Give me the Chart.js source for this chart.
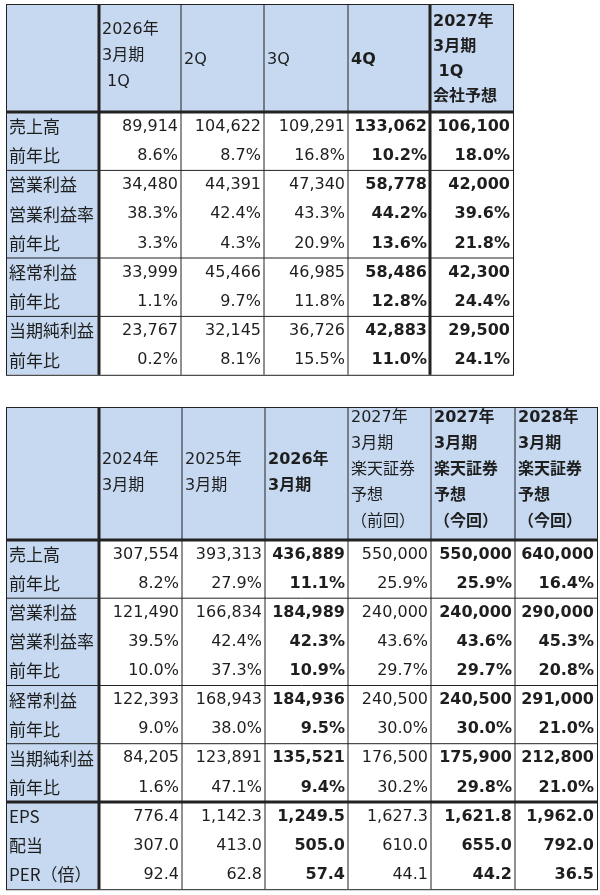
<!DOCTYPE html>
<html><head><meta charset="utf-8">
<script src="https://cdn.jsdelivr.net/npm/chart.js@4"></script>
<style>html,body{margin:0;padding:0;background:#fff}</style>
</head><body>
<canvas id="c" width="600" height="895"></canvas>
<script>
// ---- data ----
const topHeaders = [["2026年","3月期"," 1Q"],["2Q"],["3Q"],["4Q"],["2027年","3月期"," 1Q","会社予想"]];
const topLabels = ["売上高","前年比","営業利益","営業利益率","前年比","経常利益","前年比","当期純利益","前年比"];
const top1Q = ["89,914","8.6%","34,480","38.3%","3.3%","33,999","1.1%","23,767","0.2%"];
const top2Q = ["104,622","8.7%","44,391","42.4%","4.3%","45,466","9.7%","32,145","8.1%"];
const top3Q = ["109,291","16.8%","47,340","43.3%","20.9%","46,985","11.8%","36,726","15.5%"];
const top4Q = ["133,062","10.2%","58,778","44.2%","13.6%","58,486","12.8%","42,883","11.0%"];
const top27 = ["106,100","18.0%","42,000","39.6%","21.8%","42,300","24.4%","29,500","24.1%"];

const botHeaders = [["2024年","3月期"],["2025年","3月期"],["2026年","3月期"],["2027年","3月期","楽天証券","予想","（前回）"],["2027年","3月期","楽天証券","予想","（今回）"],["2028年","3月期","楽天証券","予想","（今回）"]];
const botLabels = ["売上高","前年比","営業利益","営業利益率","前年比","経常利益","前年比","当期純利益","前年比","EPS","配当","PER（倍）"];
const bot2024 = ["307,554","8.2%","121,490","39.5%","10.0%","122,393","9.0%","84,205","1.6%","776.4","307.0","92.4"];
const bot2025 = ["393,313","27.9%","166,834","42.4%","37.3%","168,943","38.0%","123,891","47.1%","1,142.3","413.0","62.8"];
const bot2026 = ["436,889","11.1%","184,989","42.3%","10.9%","184,936","9.5%","135,521","9.4%","1,249.5","505.0","57.4"];
const bot27prev = ["550,000","25.9%","240,000","43.6%","29.7%","240,500","30.0%","176,500","30.2%","1,627.3","610.0","44.1"];
const bot27now = ["550,000","25.9%","240,000","43.6%","29.7%","240,500","30.0%","175,900","29.8%","1,621.8","655.0","44.2"];
const bot28now = ["640,000","16.4%","290,000","45.3%","20.8%","291,000","21.0%","212,800","21.0%","1,962.0","792.0","36.5"];

// ---- layout ----
const tables = [
  {cols:[6,99,181,264,348,430,513], top:4, hdrBottom:112, rowH:29.2, headers:topHeaders, labels:topLabels,
   values:[top1Q,top2Q,top3Q,top4Q,top27], bold:[3,4], groups:[2,5,7], thickRows:[], thickCols:[99,430],
   hdrY:[[30,56,82],[60],[60],[60],[22,47,72,97]]},
  {cols:[6,99,182,265,348,431,515,597], top:407, hdrBottom:540, rowH:29.1, headers:botHeaders, labels:botLabels,
   values:[bot2024,bot2025,bot2026,bot27prev,bot27now,bot28now], bold:[2,4,5], groups:[2,5,7,9], thickRows:[9], thickCols:[99],
   hdrY:null}
];

const tablePlugin = {
  id:'tables',
  afterDraw(chart){
    const ctx = chart.ctx, X = v=>chart.scales.x.getPixelForValue(v), Y = v=>chart.scales.y.getPixelForValue(v);
    const cjk = '"Noto Sans CJK JP"';
    tables.forEach(t=>{
      const L=t.cols[0], R=t.cols[t.cols.length-1], n=t.labels.length, B=t.hdrBottom+n*t.rowH;
      ctx.fillStyle='#c6d9f0';
      ctx.fillRect(X(L),Y(t.top),X(R)-X(L),Y(t.hdrBottom)-Y(t.top));
      ctx.fillRect(X(L),Y(t.top),X(t.cols[1])-X(L),Y(B)-Y(t.top));
      ctx.textBaseline='middle';
      ctx.fillStyle='#1e1e1e';
      t.labels.forEach((lab,i)=>{
        ctx.font='17px '+cjk; ctx.textAlign='left';
        ctx.fillText(lab,X(L+3),Y(t.hdrBottom+(i+0.5)*t.rowH));
      });
      t.headers.forEach((h,c)=>{
        const b=t.bold.includes(c);
        ctx.textAlign='left';
        h.forEach((line,k)=>{
          let y;
          if(t.hdrY) y=t.hdrY[c][k];
          else y = h.length===2 ? 460+k*26 : 418+k*26;
          ctx.font=(b?'bold ':'')+'16px "DejaVu Sans", '+cjk;
          ctx.fillText(line,X(t.cols[c+1]+3),Y(y));
        });
      });
      t.values.forEach((col,c)=>{
        const b=t.bold.includes(c);
        ctx.font=(b?'bold ':'')+'16px "DejaVu Sans", '+cjk; ctx.textAlign='right';
        col.forEach((v,i)=>ctx.fillText(v,X(t.cols[c+2]-3),Y(t.hdrBottom+(i+0.5)*t.rowH)));
      });
      ctx.strokeStyle='#222';
      ctx.lineWidth=1;
      ctx.strokeRect(X(L)+.5,Y(t.top)+.5,X(R)-X(L),Y(B)-Y(t.top));
      t.cols.slice(1,-1).forEach(cx=>{ctx.beginPath();ctx.moveTo(X(cx),Y(t.top));ctx.lineTo(X(cx),Y(B));ctx.stroke();});
      t.groups.forEach(g=>{const y=t.hdrBottom+g*t.rowH;ctx.lineWidth=t.thickRows.includes(g)?3:1;ctx.beginPath();ctx.moveTo(X(L),Y(y));ctx.lineTo(X(R),Y(y));ctx.stroke();});
      ctx.lineWidth=3;
      ctx.beginPath();ctx.moveTo(X(L),Y(t.hdrBottom));ctx.lineTo(X(R),Y(t.hdrBottom));ctx.stroke();
      t.thickCols.forEach(cx=>{ctx.beginPath();ctx.moveTo(X(cx),Y(t.top));ctx.lineTo(X(cx),Y(B));ctx.stroke();});
    });
  }
};

new Chart(document.getElementById('c'),{
  type:'scatter',
  data:{datasets:[{data:[]}]},
  options:{responsive:false,animation:false,devicePixelRatio:1,
    layout:{padding:0},
    plugins:{legend:{display:false},tooltip:{enabled:false}},
    scales:{x:{type:'linear',min:0,max:600,display:false},y:{type:'linear',min:0,max:895,reverse:true,display:false}}},
  plugins:[tablePlugin]
});
</script>
</body></html>
